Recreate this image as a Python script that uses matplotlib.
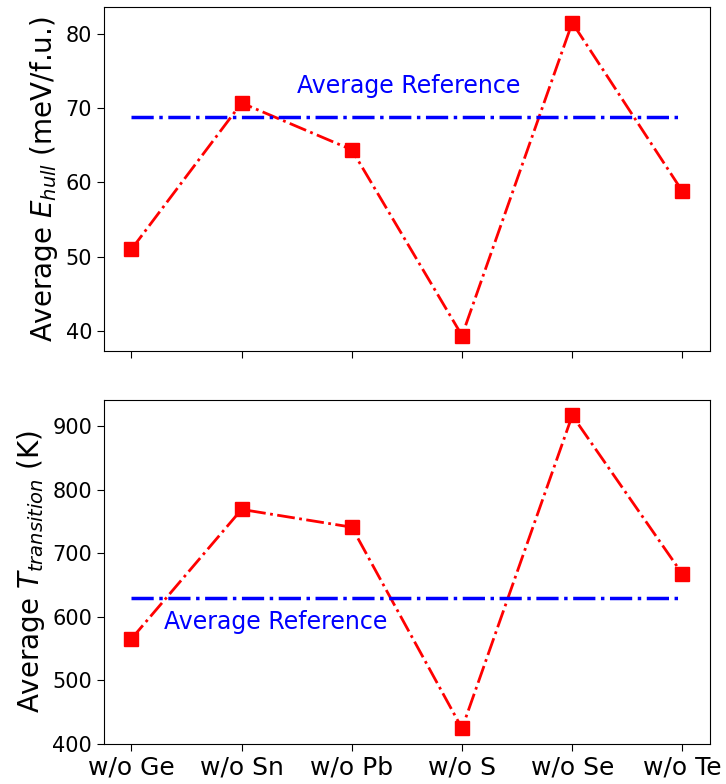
import numpy as np
import matplotlib
matplotlib.use('Agg')
import matplotlib.pyplot as plt

# compositions with one element removed
labels = ['w/o Ge', 'w/o Sn', 'w/o Pb', 'w/o S', 'w/o Se', 'w/o Te']
ehull = [51.0, 70.7, 64.4, 39.4, 81.5, 58.8]
ehull_ref = 68.8
ttrans = [565, 769, 741, 424, 917, 667]
ttrans_ref = 630

x = np.arange(len(labels))

fig = plt.figure(figsize=(7.26, 7.84), dpi=100)
ax1 = fig.add_axes([0.143, 0.552, 0.835, 0.439])
ax2 = fig.add_axes([0.143, 0.051, 0.835, 0.439], sharex=ax1)

# top panel: E_hull
ax1.plot(x, ehull, 'rs-.', markersize=10.5, linewidth=2)
ax1.plot(x, [ehull_ref] * len(x), 'b-.', linewidth=2.5)
ax1.text(1.5, 72, 'Average Reference', color='b', fontsize=17)
ax1.set_ylabel(r'Average $E_{hull}$ (meV/f.u.)', fontsize=20)
ax1.tick_params(labelsize=15, length=5)
plt.setp(ax1.get_xticklabels(), visible=False)

# bottom panel: transition temperature
ax2.plot(x, ttrans, 'rs-.', markersize=10.5, linewidth=2)
ax2.plot(x, [ttrans_ref] * len(x), 'b-.', linewidth=2.5)
ax2.text(0.3, 580, 'Average Reference', color='b', fontsize=17)
ax2.set_ylabel(r'Average $T_{transition}$ (K)', fontsize=20)
ax2.set_xticks(x)
ax2.set_xticklabels(labels)
ax2.tick_params(axis='y', labelsize=15, length=5)
ax2.tick_params(axis='x', labelsize=18, length=5)

fig.savefig('out.png', dpi=100)
